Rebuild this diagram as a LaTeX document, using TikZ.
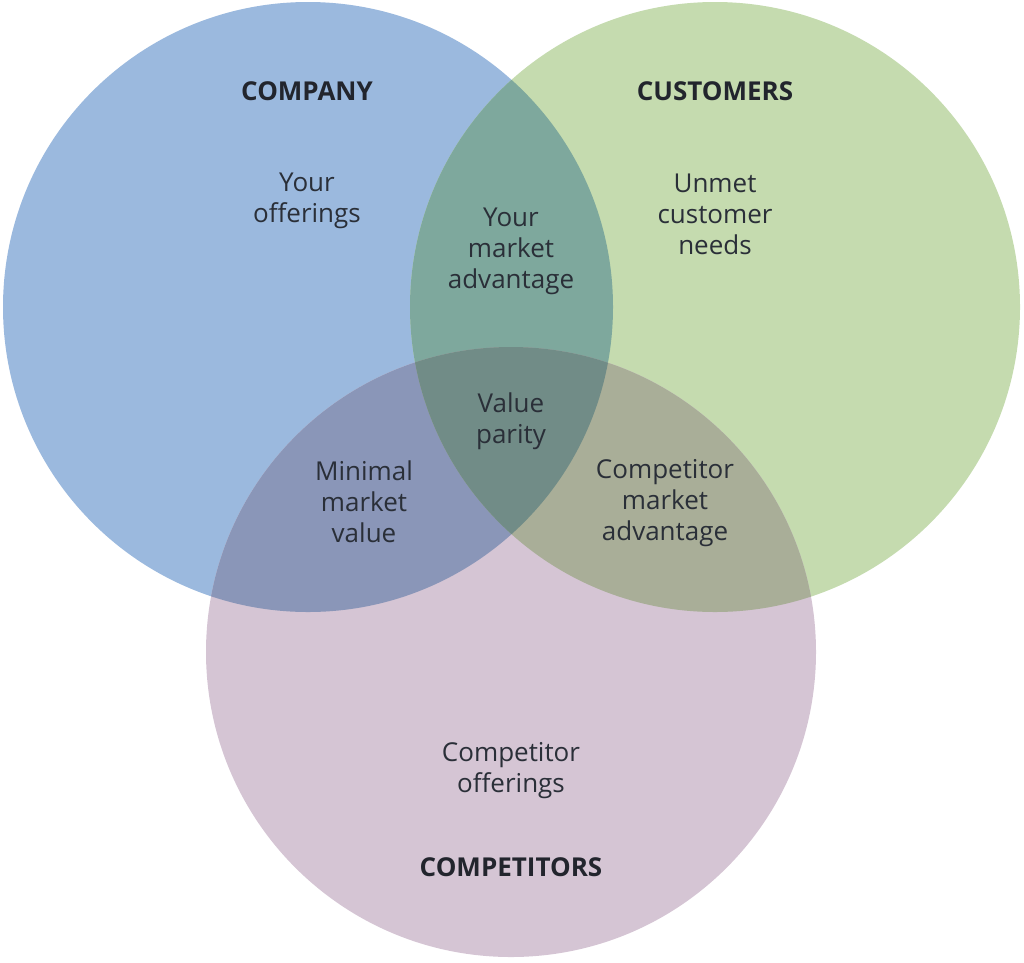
\documentclass[tikz,border=0pt]{standalone}
\usepackage{fontspec}
\setmainfont{Open Sans}
\definecolor{cblue}{HTML}{9BB9DE}
\definecolor{cgreen}{HTML}{C5DBAF}
\definecolor{cpurple}{HTML}{D5C5D4}
\definecolor{cbg}{HTML}{7EA89D}
\definecolor{cbp}{HTML}{8A96B8}
\definecolor{cgp}{HTML}{A9AE98}
\definecolor{call}{HTML}{718C87}
\definecolor{ctext}{HTML}{2A2F38}
\tikzset{
  lbl/.style={align=center, text=ctext, font=\fontsize{26}{31}\selectfont, inner sep=0pt},
  ttl/.style={text=ctext!80!black, font=\fontsize{26}{30}\selectfont\bfseries, inner sep=0pt}
}
\begin{document}
\begin{tikzpicture}[x=1pt,y=-1pt]
\useasboundingbox (0,0) rectangle (1024,962);
\def\R{305}
\coordinate (A) at (308,307);
\coordinate (B) at (715,307);
\coordinate (C) at (511,652);
\fill[cblue] (A) circle (\R);
\fill[cgreen] (B) circle (\R);
\fill[cpurple] (C) circle (\R);
\begin{scope}
  \clip (A) circle (\R);
  \fill[cbg] (B) circle (\R);
  \fill[cbp] (C) circle (\R);
\end{scope}
\begin{scope}
  \clip (B) circle (\R);
  \fill[cgp] (C) circle (\R);
\end{scope}
\begin{scope}
  \clip (A) circle (\R);
  \clip (B) circle (\R);
  \fill[call] (C) circle (\R);
\end{scope}
\node[ttl] (company) at (307,91) {COMPANY};
\node[ttl] (customers) at (715,91) {CUSTOMERS};
\node[ttl] (competitors) at (511,867) {COMPETITORS};
\node[lbl] (offer) at (307,201) {Your\\offerings};
\node[lbl] (adv) at (511,251) {Your\\market\\advantage};
\node[lbl] (unmet) at (715,214) {Unmet\\customer\\needs};
\node[lbl] (parity) at (511,421) {Value\\parity};
\node[lbl] (minimal) at (364,502) {Minimal\\market\\value};
\node[lbl] (compadv) at (665,503) {Competitor\\market\\advantage};
\node[lbl] (compoff) at (511,771) {Competitor\\offerings};
\end{tikzpicture}
\end{document}
